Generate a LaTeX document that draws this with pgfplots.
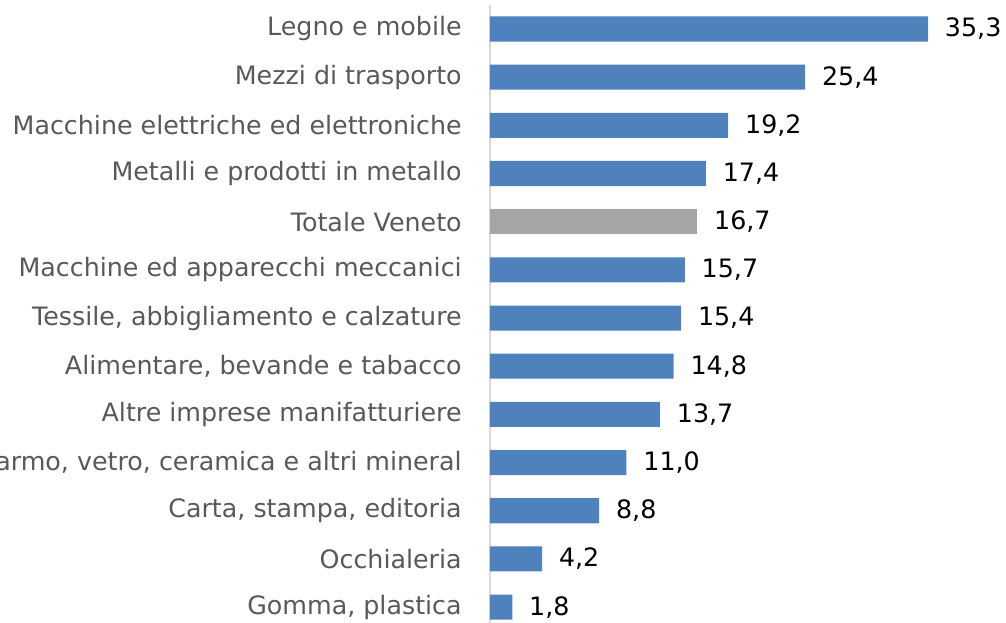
\documentclass[border=0pt]{standalone}
\usepackage{pgfplots}
\pgfplotsset{compat=1.18}
\usepackage{pgfplotstable}
\usepackage{fontspec}
\setmainfont{DejaVu Sans}
\definecolor{barblue}{HTML}{4F81BD}
\definecolor{bargray}{HTML}{A5A5A5}
\definecolor{labgray}{HTML}{595959}
\definecolor{axgray}{HTML}{D9D9D9}

% position (0 = bottom) and value
\pgfplotstableread{
pos val
12 35.3
11 25.4
10 19.2
9 17.4
7 15.7
6 15.4
5 14.8
4 13.7
3 11.0
2 8.8
1 4.2
0 1.8
}\sectors
\pgfplotstableread{
pos val
8 16.7
}\totale

\begin{document}
\begin{tikzpicture}
\begin{axis}[
    x=9.3075pt, y=36.13pt,
    xmin=0, xmax=41.6, ymin=-0.5, ymax=12.5,
    enlargelimits=false, clip=false,
    xbar, bar shift=0pt, bar width=0.52,
    axis x line=none, axis y line*=left,
    y axis line style={axgray, line width=1.5pt},
    ytick={0,...,12}, major tick length=0pt,
    yticklabels={
        {Gomma, plastica},
        {Occhialeria},
        {Carta, stampa, editoria},
        {Marmo, vetro, ceramica e altri mineral},
        {Altre imprese manifatturiere},
        {Alimentare, bevande e tabacco},
        {Tessile, abbigliamento e calzature},
        {Macchine ed apparecchi meccanici},
        {Totale Veneto},
        {Metalli e prodotti in metallo},
        {Macchine elettriche ed elettroniche},
        {Mezzi di trasporto},
        {Legno e mobile}},
    yticklabel style={font=\fontsize{19}{23}\selectfont, text=labgray,
        inner sep=0pt, xshift=-21pt},
    nodes near coords={\pgfmathprintnumber[use comma, fixed, fixed zerofill, precision=1, assume math mode=true]{\pgfplotspointmeta}},
    point meta=explicit,
    nodes near coords style={font=\fontsize{19}{23}\selectfont, text=black,
        inner sep=0pt, xshift=12.5pt, anchor=west},
]
\addplot[draw=none, fill=barblue] table[x=val, y=pos, meta=val] {\sectors};
\addplot[draw=none, fill=bargray] table[x=val, y=pos, meta=val] {\totale};
\coordinate (bl) at (axis cs:-39.48,-0.311);
\coordinate (tr) at (axis cs:41.58,12.602);
\end{axis}
\pgfresetboundingbox
\useasboundingbox (bl) rectangle (tr);
\end{tikzpicture}
\end{document}
